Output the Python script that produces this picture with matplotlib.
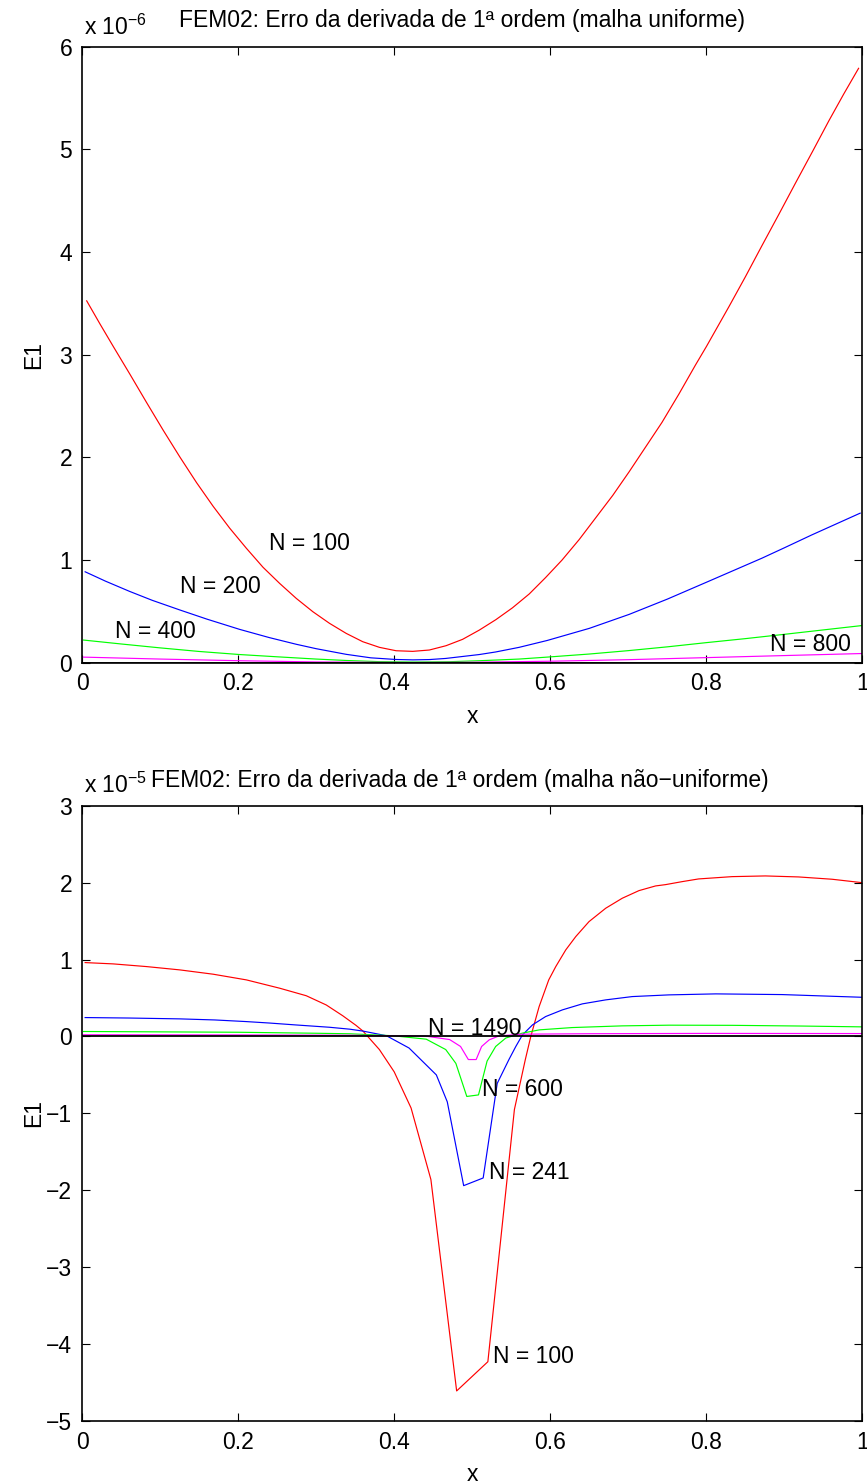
import numpy as np
import matplotlib
matplotlib.use("Agg")
import matplotlib.pyplot as plt

plt.rcParams['font.family'] = ['Liberation Sans', 'DejaVu Sans']
plt.rcParams['mathtext.fontset'] = 'custom'
plt.rcParams['mathtext.rm'] = 'Liberation Sans'
plt.rcParams['mathtext.it'] = 'Liberation Sans:italic'

# malha uniforme (valores em unidades de 1e-6)
x_u100 = [0.006, 0.023, 0.0401, 0.0614, 0.0827, 0.104, 0.1253, 0.1467, 0.1679, 0.1893,
          0.2106, 0.2319, 0.2532, 0.2745, 0.2958, 0.3171, 0.3385, 0.3597, 0.3811, 0.4024,
          0.4237, 0.445, 0.4664, 0.4876, 0.509, 0.5303, 0.5515, 0.573, 0.594, 0.615,
          0.637, 0.658, 0.680, 0.701, 0.722, 0.743, 0.765, 0.786, 0.800, 0.829,
          0.850, 0.871, 0.893, 0.914, 0.936, 0.957, 0.976, 0.995]
e_u100 = [3.525, 3.30, 3.08, 2.81, 2.535, 2.265, 2.005, 1.755, 1.525, 1.31,
          1.115, 0.93, 0.773, 0.627, 0.497, 0.384, 0.286, 0.205, 0.150, 0.117,
          0.111, 0.124, 0.166, 0.228, 0.318, 0.42, 0.535, 0.67, 0.83, 1.0,
          1.2, 1.41, 1.63, 1.86, 2.10, 2.34, 2.62, 2.90, 3.08, 3.47,
          3.76, 4.06, 4.37, 4.67, 4.98, 5.28, 5.54, 5.79]
x_u200 = [0.004, 0.03, 0.061, 0.09, 0.125, 0.16, 0.202, 0.24, 0.2745, 0.30, 0.3385,
          0.37, 0.402, 0.424, 0.445, 0.466, 0.509, 0.53, 0.56, 0.596, 0.65, 0.701,
          0.75, 0.8, 0.871, 0.9, 0.935, 0.997]
e_u200 = [0.886, 0.795, 0.695, 0.608, 0.515, 0.425, 0.325, 0.245, 0.18, 0.137, 0.082,
          0.048, 0.032, 0.028, 0.031, 0.042, 0.08, 0.105, 0.15, 0.217, 0.335, 0.471,
          0.62, 0.784, 1.018, 1.12, 1.245, 1.457]
x_u400 = [0.002, 0.05, 0.1, 0.15, 0.202, 0.25, 0.3, 0.339, 0.38, 0.424, 0.47,
          0.51, 0.56, 0.596, 0.65, 0.7, 0.75, 0.8, 0.85, 0.9, 0.95, 0.999]
e_u400 = [0.221, 0.183, 0.145, 0.11, 0.08, 0.058, 0.036, 0.022, 0.011, 0.007, 0.01,
          0.02, 0.036, 0.055, 0.085, 0.118, 0.155, 0.196, 0.235, 0.277, 0.32, 0.362]
x_u800 = [0.001, 0.1, 0.2, 0.3, 0.42, 0.5, 0.6, 0.7, 0.8, 0.9, 1.0]
e_u800 = [0.055, 0.036, 0.02, 0.008, 0.002, 0.005, 0.015, 0.03, 0.05, 0.07, 0.09]

# malha nao-uniforme (valores em unidades de 1e-5)
x_n100 = [0.004, 0.040, 0.0827, 0.1253, 0.168, 0.2106, 0.2532, 0.2873, 0.3129, 0.334,
          0.351, 0.360, 0.381, 0.400, 0.4216, 0.447, 0.480, 0.520, 0.554, 0.568,
          0.575, 0.5857, 0.598, 0.607, 0.6198, 0.6326, 0.6496, 0.671, 0.6922, 0.7136,
          0.7349, 0.7477, 0.769, 0.790, 0.833, 0.8755, 0.918, 0.961, 0.999]
e_n100 = [0.961, 0.944, 0.909, 0.866, 0.810, 0.736, 0.628, 0.53, 0.41, 0.27,
          0.145, 0.07, -0.17, -0.46, -0.93, -1.86, -4.61, -4.23, -0.95, -0.30,
          0.0, 0.389, 0.736, 0.909, 1.126, 1.299, 1.494, 1.668, 1.798, 1.897,
          1.958, 1.975, 2.014, 2.049, 2.079, 2.088, 2.075, 2.045, 2.001]
x_n241 = [0.004, 0.06, 0.125, 0.17, 0.21, 0.24, 0.274, 0.317, 0.343, 0.36, 0.39,
          0.419, 0.454, 0.468, 0.489, 0.514, 0.532, 0.547, 0.5558, 0.5643, 0.5772,
          0.594, 0.6155, 0.641, 0.671, 0.705, 0.752, 0.812, 0.897, 0.999]
e_n241 = [0.246, 0.24, 0.229, 0.215, 0.194, 0.175, 0.15, 0.12, 0.095, 0.07, 0.01,
          -0.15, -0.5, -0.85, -1.94, -1.84, -0.61, -0.30, -0.13, 0.02, 0.151,
          0.259, 0.346, 0.424, 0.476, 0.519, 0.541, 0.554, 0.545, 0.51]
x_n600 = [0.002, 0.2, 0.3, 0.343, 0.398, 0.441, 0.466, 0.479, 0.493, 0.508, 0.519,
          0.53, 0.543, 0.564, 0.586, 0.628, 0.692, 0.752, 0.833, 0.92, 1.0]
e_n600 = [0.065, 0.055, 0.042, 0.035, 0.01, -0.035, -0.17, -0.35, -0.78, -0.76, -0.32,
          -0.13, -0.02, 0.043, 0.086, 0.116, 0.138, 0.147, 0.145, 0.136, 0.125]
x_n1490 = [0.001, 0.2, 0.343, 0.44, 0.471, 0.485, 0.495, 0.505, 0.512, 0.5217, 0.5345,
           0.564, 0.65, 0.8, 1.0]
e_n1490 = [0.022, 0.02, 0.016, 0.005, -0.04, -0.13, -0.30, -0.30, -0.13, -0.044, 0.008,
           0.03, 0.036, 0.04, 0.038]

fs = 16.5
fig = plt.figure(figsize=(8.67, 14.84), dpi=100)
ax1 = fig.add_axes([0.0946, 0.5534, 0.9002, 0.4151])
ax2 = fig.add_axes([0.0946, 0.0425, 0.9002, 0.4145])


def estilo(ax, ylim, yticks):
    ax.set_xlim(0, 1)
    ax.set_ylim(*ylim)
    ax.set_xticks([0, 0.2, 0.4, 0.6, 0.8, 1])
    ax.set_xticklabels(['0', '0.2', '0.4', '0.6', '0.8', '1'])
    ax.set_yticks(yticks)
    ax.tick_params(direction='in', length=5.8, width=0.8, top=True, right=True,
                   labelsize=fs, pad=7)
    for s in ax.spines.values():
        s.set_linewidth(1.2)
    ax.axhline(0, color='k', lw=1.3, zorder=3)
    ax.set_xlabel('x', fontsize=fs, va='center')
    ax.xaxis.set_label_coords(0.5, -0.087)
    ax.set_ylabel('E1', fontsize=fs, va='center')
    ax.yaxis.set_label_coords(-0.062, 0.5)


lw = 0.85
verde = (0, 1, 0)
magenta = (1, 0, 1)

ax1.plot(x_u100, e_u100, color='r', lw=lw)
ax1.plot(x_u200, e_u200, color='b', lw=lw)
ax1.plot(x_u400, e_u400, color=verde, lw=lw)
ax1.plot(x_u800, e_u800, color=magenta, lw=lw)
estilo(ax1, (0, 6), range(0, 7))
ax1.text(0.240, 1.097, 'N = 100', fontsize=fs)
ax1.text(0.125, 0.68, 'N = 200', fontsize=fs)
ax1.text(0.042, 0.24, 'N = 400', fontsize=fs)
ax1.text(0.882, 0.119, 'N = 800', fontsize=fs)
ax1.text(0.002, 1.019, r'x 10$^{-6}$', transform=ax1.transAxes, fontsize=fs, va='baseline')
ax1.text(0.1243, 1.032, 'FEM02: Erro da derivada de 1ª ordem (malha uniforme)',
         transform=ax1.transAxes, fontsize=fs, ha='left', va='baseline')

ax2.plot(x_n100, e_n100, color='r', lw=lw)
ax2.plot(x_n241, e_n241, color='b', lw=lw)
ax2.plot(x_n600, e_n600, color=verde, lw=lw)
ax2.plot(x_n1490, e_n1490, color=magenta, lw=lw)
estilo(ax2, (-5, 3), range(-5, 4))
ax2.text(0.443, 0.02, 'N = 1490', fontsize=fs)
ax2.text(0.513, -0.77, 'N = 600', fontsize=fs)
ax2.text(0.521, -1.85, 'N = 241', fontsize=fs)
ax2.text(0.527, -4.25, 'N = 100', fontsize=fs)
ax2.text(0.002, 1.021, r'x 10$^{-5}$', transform=ax2.transAxes, fontsize=fs, va='baseline')
ax2.text(0.0884, 1.031, 'FEM02: Erro da derivada de 1ª ordem (malha não−uniforme)',
         transform=ax2.transAxes, fontsize=fs, ha='left', va='baseline')

fig.savefig('out.png', dpi=100)
